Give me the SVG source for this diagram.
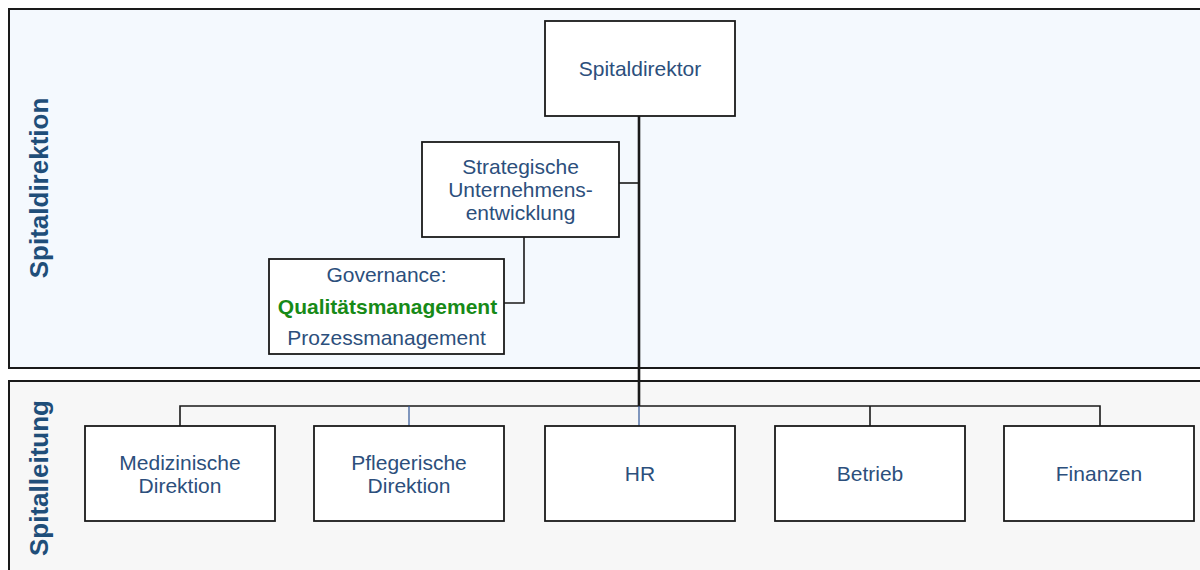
<svg xmlns="http://www.w3.org/2000/svg" width="1200" height="570" viewBox="0 0 1200 570">
<style>
.band{stroke:#1a1a1a;stroke-width:2}
.box{fill:#ffffff;stroke:#1a1a1a;stroke-width:1.8}
.t{font-family:"Liberation Sans",Arial,sans-serif;fill:#2c4f7c;text-anchor:middle}
.top{font-size:21px}
.bot{font-size:21px}
.lbl{font-family:"Liberation Sans",Arial,sans-serif;font-weight:bold;font-size:26px;fill:#1f4e79;text-anchor:middle}
.green{fill:#178a17;font-weight:bold}
.c{fill:none;stroke:#1a1a1a;stroke-width:1.6}
.cb{fill:none;stroke:#2f5597;stroke-width:1.2}
</style>
<rect width="1200" height="570" fill="#ffffff"/>
<g id="band-spitaldirektion">
<rect class="band" x="9" y="9" width="1200" height="359" fill="#f4f9fe"/>
<text class="lbl" transform="translate(48,188) rotate(-90)">Spitaldirektion</text>
</g>
<g id="band-spitalleitung">
<rect class="band" x="9" y="381" width="1200" height="200" fill="#f7f7f7"/>
<text class="lbl" transform="translate(48,478) rotate(-90)">Spitalleitung</text>
</g>
<g id="connectors">
<path class="c" d="M639 116 V406" style="stroke-width:2.6"/>
<path class="c" d="M619 183 H639"/>
<path class="c" d="M524 237 V303 H504"/>
<path class="c" d="M180 426 V406 H1100 V426"/>
<path class="c" d="M870 406 V426"/>
<path class="cb" d="M409 406 V426"/>
<path class="cb" d="M639 406 V426"/>
</g>
<g id="spitaldirektor">
<rect class="box" x="545" y="21" width="190" height="95"/>
<text class="t top" x="640" y="75.5">Spitaldirektor</text>
</g>
<g id="strategische">
<rect class="box" x="422" y="142" width="197" height="95"/>
<text class="t top" x="520.5" y="174">Strategische</text>
<text class="t top" x="520.5" y="197">Unternehmens-</text>
<text class="t top" x="520.5" y="220">entwicklung</text>
</g>
<g id="governance">
<rect class="box" x="269" y="259" width="235" height="95"/>
<text class="t top" x="386.5" y="282">Governance:</text>
<text class="t top green" x="387.5" y="313.5">Qualitätsmanagement</text>
<text class="t top" x="386.5" y="345">Prozessmanagement</text>
</g>
<g id="medizinische">
<rect class="box" x="85" y="426" width="190" height="95"/>
<text class="t bot" x="180" y="470">Medizinische</text>
<text class="t bot" x="180" y="492.5">Direktion</text>
</g>
<g id="pflegerische">
<rect class="box" x="314" y="426" width="190" height="95"/>
<text class="t bot" x="409" y="470">Pflegerische</text>
<text class="t bot" x="409" y="492.5">Direktion</text>
</g>
<g id="hr">
<rect class="box" x="545" y="426" width="190" height="95"/>
<text class="t bot" x="640" y="481">HR</text>
</g>
<g id="betrieb">
<rect class="box" x="775" y="426" width="190" height="95"/>
<text class="t bot" x="870" y="481">Betrieb</text>
</g>
<g id="finanzen">
<rect class="box" x="1004" y="426" width="190" height="95"/>
<text class="t bot" x="1099" y="481">Finanzen</text>
</g>
</svg>
